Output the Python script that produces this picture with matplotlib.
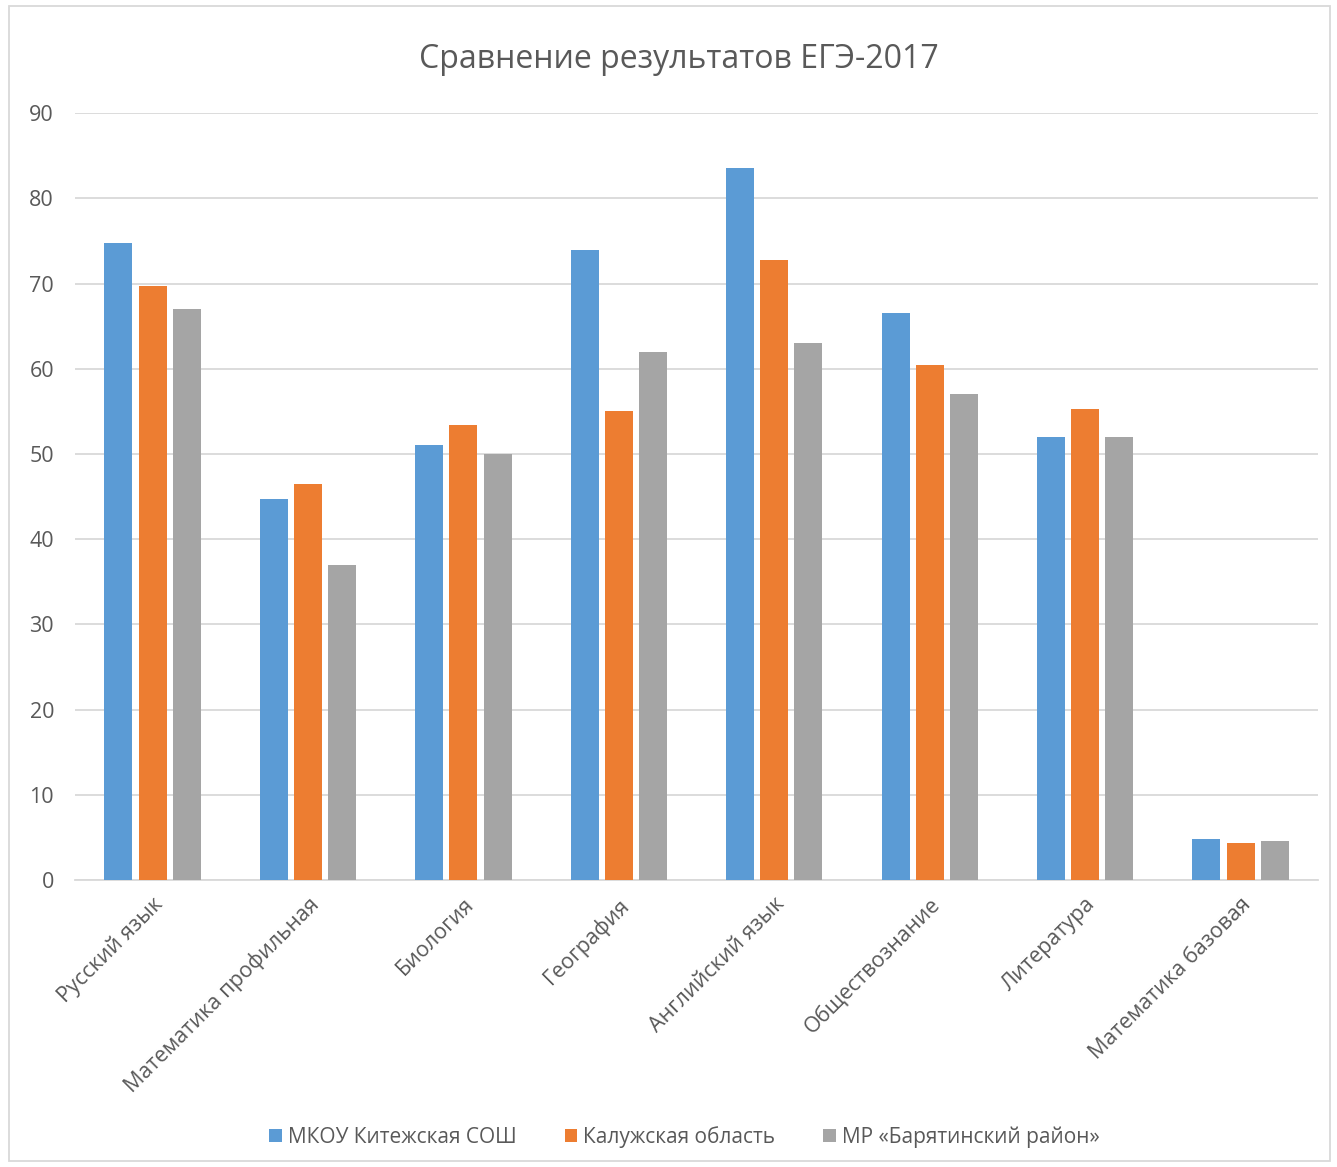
import matplotlib
matplotlib.use("Agg")
import matplotlib.pyplot as plt
import numpy as np

plt.rcParams['font.family'] = ['Open Sans', 'DejaVu Sans']

categories = ['Русский язык', 'Математика профильная', 'Биология', 'География',
              'Английский язык', 'Обществознание', 'Литература', 'Математика базовая']
school = [74.8, 44.7, 51.0, 73.9, 83.6, 66.5, 52.0, 4.85]
region = [69.7, 46.5, 53.4, 55.0, 72.8, 60.4, 55.3, 4.35]
district = [67.0, 37.0, 50.0, 62.0, 63.0, 57.0, 52.0, 4.6]
series_names = ['МКОУ Китежская СОШ', 'Калужская область', 'МР «Барятинский район»']
colors = ['#5b9bd5', '#ed7d31', '#a5a5a5']

fig = plt.figure(figsize=(13.37, 11.67), dpi=100)
ax = fig.add_axes([0.056, 0.246, 0.930, 0.657])

x = np.arange(len(categories))
w = 0.18
step = 0.22
for i, (vals, name, c) in enumerate(zip([school, region, district], series_names, colors)):
    ax.bar(x + (i - 1) * step, vals, width=w, color=c, label=name, zorder=3)

ax.set_xlim(-0.5, len(categories) - 0.5)
ax.set_ylim(0, 90)
ax.set_yticks(np.arange(0, 91, 10))
ax.grid(axis='y', color='#d9d9d9', linewidth=1.3, zorder=0)
for s in ['top', 'right', 'left']:
    ax.spines[s].set_visible(False)
ax.spines['bottom'].set_color('#d9d9d9')
ax.spines['bottom'].set_linewidth(1.3)
ax.tick_params(axis='both', length=0, labelsize=15.5, colors='#595959', pad=10)
ax.tick_params(axis='y', pad=15)
ax.set_xticks(x)
ax.set_xticklabels(categories, rotation=45, ha='right', rotation_mode='anchor')

fig.text(0.508, 0.949, 'Сравнение результатов ЕГЭ-2017', ha='center', va='center',
         fontsize=23, color='#595959')

leg = fig.legend(loc='center', bbox_to_anchor=(0.512, 0.026), ncol=3, frameon=False,
                 fontsize=15, handlelength=0.6, handleheight=0.6, handletextpad=0.3,
                 columnspacing=2.3)
for t in leg.get_texts():
    t.set_color('#595959')

fig.patches.append(plt.Rectangle((0.007, 0.005), 0.988, 0.99, transform=fig.transFigure,
                                 fill=False, edgecolor='#d9d9d9', linewidth=1.3))

fig.savefig('out.png', dpi=100, facecolor='white')
